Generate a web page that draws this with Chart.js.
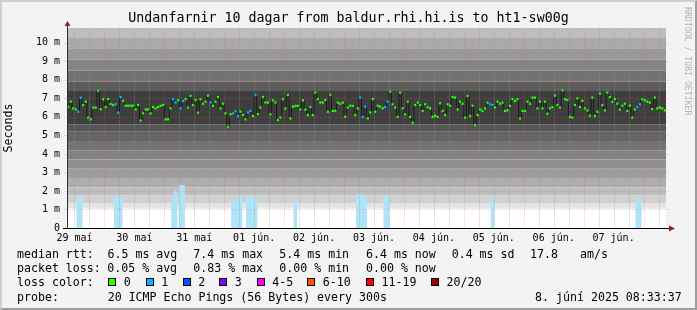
<!DOCTYPE html>
<html>
<head>
<meta charset="utf-8">
<title>smokeping</title>
<script src="https://cdn.jsdelivr.net/npm/chart.js@4.4.1/dist/chart.umd.min.js"></script>
<style>
  body { margin: 0; background: #f3f3f3; }
  #frame {
    position: absolute; left: 0; top: 0; width: 697px; height: 310px; box-sizing: border-box;
    border-style: solid; border-width: 2px; border-color: #cfcfcf #9e9e9e #9e9e9e #cfcfcf;
    font-family: "DejaVu Sans Mono", monospace;
  }
  #chart { position: absolute; left: 0; top: 0; }
  .txt { position: absolute; font-size: 11.6px; line-height: 14px; white-space: pre; color: #000; }
  .sw { position: absolute; width: 8px; height: 8px; box-sizing: border-box; border: 1px solid #000; }
  #credit {
    position: absolute; left: 681px; top: 5px; writing-mode: vertical-rl;
    font-size: 8.2px; color: #b4b4b4; white-space: pre;
  }
</style>
</head>
<body>
<div id="frame">
  <canvas id="chart" width="693" height="306"></canvas>
  <div id="credit">RRDTOOL / TOBI OETIKER</div>
</div>
<script>
const chartTitle = "Undanfarnir 10 dagar from baldur.rhi.hi.is to ht1-sw00g"
const dayLabels = ["29 maí", "30 maí", "31 maí", "01 jún.", "02 jún.", "03 jún.", "04 jún.", "05 jún.", "06 jún.", "07 jún."]
const yTickValues = [0, 0.5, 1, 1.5, 2, 2.5, 3, 3.5, 4, 4.5, 5, 5.5, 6, 6.5, 7, 7.5, 8, 8.5, 9, 9.5, 10, 10.5]

// hours counted from 29 maí 00:00, one sample per hour
const startHour = 9
const spanHours = 240

// median rtt (ms), one value per hour
const median = [
    6.55, 6.82, 6.46, 6.4, 6.28, 7.04, 6.64, 6.82, 5.96, 5.87, 6.5, 6.5, 7.41, 6.42, 6.95, 6.53, 6.96, 6.7, 6.64, 6.68,
    6.23, 7.07, 6.87, 6.6, 6.6, 6.6, 6.6, 6.4, 6.64, 5.8, 6.19, 6.4, 6.4, 6.19, 6.53, 6.46, 6.53, 6.6, 6.64, 5.87,
    5.87, 6.46, 6.95, 6.78, 6.89, 6.46, 6.86, 6.95, 6.5, 7.13, 6.64, 6.91, 6.23, 6.95, 6.71, 6.82, 7.14, 6.78, 6.6, 6.82,
    7.07, 6.46, 6.71, 6.19, 5.47, 6.14, 6.19, 6.3, 6.05, 6.28, 6.1, 5.87, 6.24, 6.32, 6.05, 7.18, 6.15, 6.5, 7.07, 6.78,
    6.77, 6.14, 6.89, 6.78, 5.83, 5.96, 6.95, 6.46, 7.18, 5.92, 6.55, 6.59, 6.59, 6.4, 6.89, 6.39, 6.1, 6.53, 6.1, 7.31,
    6.96, 6.78, 6.77, 6.91, 6.28, 7.18, 6.32, 6.32, 6.77, 6.71, 6.77, 6.01, 6.5, 6.6, 6.59, 6.1, 6.46, 7.04, 6.0, 6.55,
    5.92, 6.24, 6.96, 6.28, 6.6, 6.55, 6.46, 6.53, 6.82, 7.36, 6.68, 6.5, 6.0, 7.31, 6.46, 6.14, 6.82, 6.0, 5.69, 6.64,
    6.77, 6.64, 6.32, 6.68, 6.53, 6.46, 6.0, 6.06, 6.0, 6.73, 6.32, 6.1, 6.68, 6.6, 7.07, 7.04, 6.4, 6.82, 6.71, 5.96,
    7.13, 6.05, 6.6, 5.56, 6.1, 6.4, 6.32, 6.46, 6.77, 6.68, 6.64, 6.51, 6.82, 6.71, 6.77, 6.32, 6.35, 6.59, 6.96, 6.86,
    6.95, 5.92, 6.32, 6.32, 6.82, 6.71, 7.04, 7.04, 6.46, 6.82, 6.46, 6.82, 6.17, 6.46, 6.53, 7.14, 6.64, 6.5, 7.43, 6.96,
    6.91, 6.0, 5.96, 6.64, 7.0, 6.53, 6.86, 6.46, 6.35, 6.06, 7.04, 6.05, 6.28, 7.25, 6.64, 6.35, 7.31, 7.07, 6.82, 6.96,
    6.71, 6.4, 6.6, 6.71, 6.32, 6.6, 5.96, 6.4, 6.53, 6.68, 6.95, 6.89, 6.82, 6.77, 6.42, 7.04, 6.46, 6.5, 6.46, 6.35
]

// samples where 1 of 20 pings was lost
const lossOne = [4, 5, 19, 20, 21, 42, 43, 45, 46, 57, 66, 67, 68, 72, 73, 75, 117, 118, 119, 127, 128, 169, 170, 228, 229]

// light blue loss bars: sample index and height (ms)
const lossBarIdx = [4, 5, 19, 20, 21, 42, 43, 45, 46, 66, 67, 68, 69, 72, 73, 74, 75, 91, 116, 117, 118, 119, 127, 128, 170, 228, 229]
const lossBarMs = [1.7, 1.7, 1.65, 1.65, 1.65, 1.6, 2.0, 2.3, 2.3, 1.45, 1.45, 1.45, 1.7, 1.7, 1.7, 1.6, 1.6, 1.45, 1.8, 1.8, 1.7, 1.7, 1.7, 1.7, 1.7, 1.6, 1.6]

// smoke: ping spread levels (ms) and the grey between each pair
const smokeLevels = [1.05, 1.35, 1.75, 2.2, 2.7, 3.2, 3.7, 4.2, 4.7, 5.2, 5.6, 7.4, 7.9, 8.5, 9.1, 9.7, 10.3, 11]
const smokeShades = ["#e4e4e4", "#d0d0d0", "#bdbdbd", "#adadad", "#9e9e9e", "#909090", "#828282", "#737373", "#646464",
    "#555555", "#3e3e3e", "#5c5c5c", "#727272", "#858585", "#989898", "#aaaaaa", "#bebebe"]

const lossColors = { "0": "#26ff00", "1": "#00b8ff", "2": "#0059ff", "3": "#7e00ff", "4-5": "#ff00ff", "6-10": "#ff5500", "11-19": "#ff0000", "20/20": "#a10000" }

const statRows = [
    ["median rtt:", "6.5 ms avg", "7.4 ms max", "5.4 ms min", "6.4 ms now", "0.4 ms sd", "17.8", "am/s"],
    ["packet loss:", "0.05 % avg", "0.83 % max", "0.00 % min", "0.00 % now"]
]
const probeText = "20 ICMP Echo Pings (56 Bytes) every 300s"
const stampText = "8. júní 2025 08:33:37"

// ---- chart ----
Chart.defaults.font.family = "'DejaVu Sans Mono', monospace"

const xs = median.map((_, i) => startHour + i + 0.5)
const medianPts = median.map((v, i) => ({ x: xs[i], y: v }))
const dotColors = median.map((_, i) => lossOne.includes(i) ? lossColors["1"] : lossColors["0"])

const xTickHours = []
for (let h = Math.ceil(startHour / 6) * 6; h < startHour + spanHours; h += 6) xTickHours.push(h)

const smokeSets = smokeLevels.map((lv, k) => ({
    type: "line",
    data: [{ x: startHour, y: lv }, { x: startHour + spanHours, y: lv }],
    borderWidth: 0,
    borderColor: "transparent",
    pointRadius: 0,
    fill: k === 0 ? false : "-1",
    backgroundColor: k === 0 ? "transparent" : smokeShades[k - 1]
}))

const canvasBg = {
    id: "canvasBg",
    beforeDatasetsDraw(chart) {
        const { ctx, chartArea: a } = chart
        ctx.save()
        ctx.fillStyle = "#ffffff"
        ctx.fillRect(a.left, a.top, a.right - a.left, a.bottom - a.top)
        ctx.restore()
    }
}

// grid goes over the smoke and loss bars, under the median
const majorGrid = "rgba(255,80,80,0.3)"
const minorGrid = "rgba(150,150,150,0.5)"
const smokeGrid = {
    id: "smokeGrid",
    afterDatasetDraw(chart, args) {
        if (args.index !== 2) return
        const { ctx, chartArea: a, scales: { x, y } } = chart
        ctx.save()
        ctx.lineWidth = 1
        ctx.setLineDash([1, 1])
        for (const t of x.ticks) {
            const px = Math.round(x.getPixelForValue(t.value)) + 0.5
            ctx.strokeStyle = t.value % 24 === 0 ? majorGrid : minorGrid
            ctx.beginPath()
            ctx.moveTo(px, a.top)
            ctx.lineTo(px, a.bottom)
            ctx.stroke()
        }
        for (const t of y.ticks) {
            if (t.value === 0) continue
            const py = Math.round(y.getPixelForValue(t.value)) + 0.5
            const major = t.value % 1 === 0
            ctx.strokeStyle = major ? majorGrid : minorGrid
            ctx.beginPath()
            ctx.moveTo(major ? a.left - 3 : a.left, py)
            ctx.lineTo(a.right + 3, py)
            ctx.stroke()
        }
        ctx.restore()
    }
}

const axesArrows = {
    id: "axesArrows",
    afterDraw(chart) {
        const { ctx, chartArea: a } = chart
        ctx.save()
        ctx.strokeStyle = "#303030"
        ctx.lineWidth = 1
        ctx.beginPath()
        ctx.moveTo(a.left + 0.5, a.bottom)
        ctx.lineTo(a.left + 0.5, a.top - 3)
        ctx.stroke()
        ctx.strokeStyle = "#000"
        ctx.beginPath()
        ctx.moveTo(a.left - 4, a.bottom + 0.5)
        ctx.lineTo(a.right + 3, a.bottom + 0.5)
        ctx.stroke()
        ctx.fillStyle = "#9e1c1c"
        ctx.beginPath()
        ctx.moveTo(a.left + 0.5, a.top - 7)
        ctx.lineTo(a.left - 2.5, a.top - 2)
        ctx.lineTo(a.left + 3.5, a.top - 2)
        ctx.closePath()
        ctx.fill()
        ctx.beginPath()
        ctx.moveTo(a.right + 9, a.bottom + 0.5)
        ctx.lineTo(a.right + 3, a.bottom - 2.5)
        ctx.lineTo(a.right + 3, a.bottom + 3.5)
        ctx.closePath()
        ctx.fill()
        ctx.restore()
    }
}

const ctx = document.getElementById("chart").getContext("2d")
new Chart(ctx, {
    type: "line",
    data: {
        datasets: [
            {
                data: medianPts,
                showLine: false,
                pointStyle: "rect",
                pointRadius: 1.6,
                pointBorderWidth: 0,
                pointBackgroundColor: dotColors
            },
            {
                data: medianPts,
                stepped: "middle",
                borderColor: "#1a1a1a",
                borderWidth: 1,
                pointRadius: 0,
                fill: false
            },
            {
                type: "bar",
                data: lossBarIdx.map((i, k) => ({ x: xs[i], y: lossBarMs[k] })),
                backgroundColor: "#aee4f8",
                borderWidth: 0,
                barThickness: 3
            },
            ...smokeSets
        ]
    },
    options: {
        responsive: false,
        animation: false,
        devicePixelRatio: 1,
        events: [],
        layout: { padding: 0 },
        plugins: {
            legend: { display: false },
            tooltip: { enabled: false },
            title: {
                display: true,
                text: chartTitle,
                color: "#000",
                font: { size: 13.3, weight: "normal" },
                padding: { top: 9, bottom: 1 }
            }
        },
        scales: {
            x: {
                type: "linear",
                min: startHour,
                max: startHour + spanHours,
                offset: false,
                grid: { display: false, drawTicks: false, offset: false },
                border: { display: false },
                afterBuildTicks: (axis) => { axis.ticks = xTickHours.map((v) => ({ value: v })) },
                afterFit: (axis) => { axis.height = 80 },
                ticks: {
                    autoSkip: false,
                    maxRotation: 0,
                    padding: 4,
                    color: "#000",
                    font: { size: 10 },
                    callback: (v) => v % 24 === 12 ? dayLabels[(v - 12) / 24] : ""
                }
            },
            y: {
                min: 0,
                max: 10.8,
                grid: { display: false, drawTicks: false },
                border: { display: false },
                afterBuildTicks: (axis) => { axis.ticks = yTickValues.map((v) => ({ value: v })) },
                afterFit: (axis) => { axis.width = 65 },
                title: {
                    display: true,
                    text: "Seconds",
                    color: "#000",
                    font: { size: 11.6 },
                    padding: { top: 0, bottom: 0 }
                },
                ticks: {
                    padding: 7,
                    color: "#000",
                    font: { size: 10 },
                    callback: (v) => v % 1 === 0 ? (v === 0 ? "0" : v + " m") : ""
                }
            },
            // empty right-hand strip so the title stays centred on the whole image
            yRight: {
                position: "right",
                min: 0,
                max: 10.8,
                grid: { display: false, drawTicks: false },
                border: { display: false },
                ticks: { display: false },
                afterFit: (axis) => { axis.width = 29 }
            }
        }
    },
    plugins: [canvasBg, smokeGrid, axesArrows]
})

// ---- legend text under the graph (page coords minus the 2px frame) ----
const frame = document.getElementById("frame")
function addText(left, top, s) {
    const d = document.createElement("div")
    d.className = "txt"
    d.style.left = left + "px"
    d.style.top = top + "px"
    d.textContent = s
    frame.appendChild(d)
    return d
}

const statCols = [15, 105.5, 191.3, 277.3, 364, 449.7, 528, 578]
const rowTops = [245, 259, 273.3, 287.7]
statRows.forEach((row, r) => {
    row.forEach((s, c) => addText(c === 1 && r === 1 ? 105.3 : statCols[c], rowTops[r], s))
})

addText(15, rowTops[2], "loss color:")
const swatchLefts = [106.3, 143.7, 180.7, 217.3, 254.7, 305.3, 364, 429]
Object.keys(lossColors).forEach((name, k) => {
    const sw = document.createElement("div")
    sw.className = "sw"
    sw.style.left = swatchLefts[k] + "px"
    sw.style.top = "275.8px"
    sw.style.background = lossColors[name]
    frame.appendChild(sw)
    addText(swatchLefts[k] + 15.5, rowTops[2], name)
})

addText(15, rowTops[3], "probe:")
addText(105.7, rowTops[3], probeText)
const stamp = addText(0, rowTops[3], stampText)
stamp.style.left = ""
stamp.style.right = "13.3px"
</script>
</body>
</html>
